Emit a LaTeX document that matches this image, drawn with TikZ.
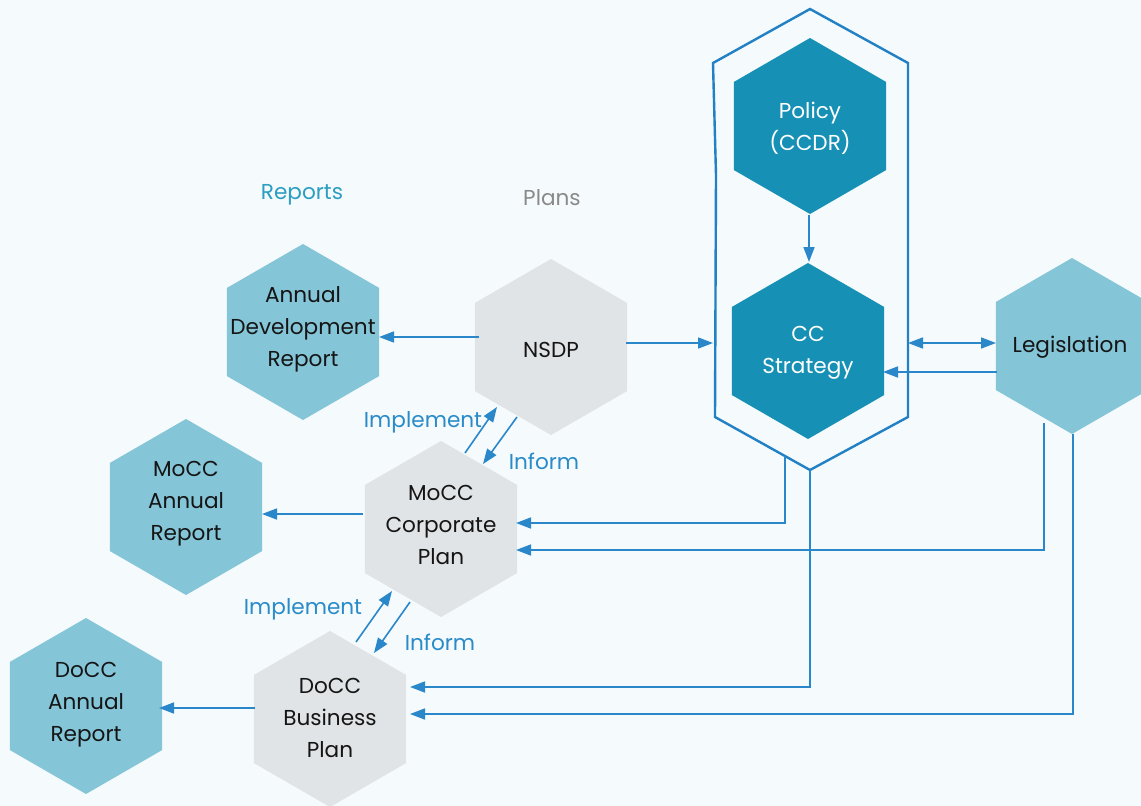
\documentclass[tikz,border=0pt]{standalone}
\usepackage{fontspec}
\setmainfont{Poppins}
\usetikzlibrary{shapes.geometric,arrows.meta,calc}
\definecolor{bgc}{HTML}{F5FAFC}
\definecolor{darkhex}{HTML}{1690B5}
\definecolor{lighthex}{HTML}{84C5D8}
\definecolor{grayhex}{HTML}{E1E4E6}
\definecolor{arrowc}{HTML}{2A87C9}
\definecolor{contc}{HTML}{2280C4}
\definecolor{labelc}{HTML}{2A8BC9}
\definecolor{reportc}{HTML}{2B9EC2}
\definecolor{plansc}{HTML}{8A8A8A}
\definecolor{textc}{HTML}{151515}
\tikzset{
  hexbase/.style={regular polygon, regular polygon sides=6, shape border rotate=30,
    minimum size=176pt, inner sep=0pt, outer sep=0pt, draw=none},
  hexdark/.style={hexbase, fill=darkhex},
  hexlight/.style={hexbase, fill=lighthex},
  hexgray/.style={hexbase, fill=grayhex},
  hextext/.style={align=center, font=\fontsize{21.6}{32}\selectfont, text=textc, inner sep=0pt},
  hextextw/.style={hextext, text=white},
  lbl/.style={font=\fontsize{21.6}{26}\selectfont, text=labelc, inner sep=0pt},
  arr/.style={draw=arrowc, line width=1.6pt, -{Triangle[length=15pt,width=11pt]}},
  darr/.style={draw=arrowc, line width=1.6pt, {Triangle[length=15pt,width=11pt]}-{Triangle[length=15pt,width=11pt]}},
  cont/.style={draw=contc, line width=2.4pt, line join=miter}
}
\begin{document}
\begin{tikzpicture}[x=1pt,y=-1pt]
\fill[bgc] (0,0) rectangle (1141,806);
\useasboundingbox (0,0) rectangle (1141,806);
\clip (0,0) rectangle (1141,806);

% container
\coordinate (ctop) at (810,9);
\coordinate (ctl) at (713,63);
\coordinate (ctr) at (908,63);
\coordinate (cbr) at (908,417);
\coordinate (cbot) at (810,470);
\coordinate (cbl) at (715,417);
\draw[cont] (ctop) -- (ctr) -- (cbr) -- (cbot) -- (cbl) -- (716,175) -- (ctl) -- cycle;

% hexagons
\node[hexlight] (adr) at (303,332) {};
\node[hexgray] (nsdp) at (551,347) {};
\node[hexdark] (policy) at (810,126) {};
\node[hexdark] (ccs) at (808,351) {};
\node[hexlight] (leg) at (1072,346) {};
\node[hexlight] (moccar) at (186,507) {};
\node[hexgray] (mocccp) at (441,529) {};
\node[hexlight] (doccar) at (86,706) {};
\node[hexgray] (doccbp) at (330,719) {};

\node[hextext] (adrt) at (303,329) {Annual\\Development\\Report};
\node[hextext] (nsdpt) at (551,350) {NSDP};
\node[hextextw] (policyt) at (810,128) {Policy\\(CCDR)};
\node[hextextw] (ccst) at (808,353) {CC\\Strategy};
\node[hextext] (legt) at (1070,347) {Legislation};
\node[hextext] (moccart) at (186,504) {MoCC\\Annual\\Report};
\node[hextext] (mocccpt) at (441,525) {MoCC\\Corporate\\Plan};
\node[hextext] (doccart) at (86,705) {DoCC\\Annual\\Report};
\node[hextext] (doccbpt) at (330,718) {DoCC\\Business\\Plan};

% headers and labels
\node[lbl, text=reportc] (rep) at (302,195) {Reports};
\node[lbl, text=plansc] (pla) at (552,198) {Plans};
\node[lbl] (imp1) at (423,422) {Implement};
\node[lbl] (inf1) at (544,461) {Inform};
\node[lbl] (imp2) at (303,609) {Implement};
\node[lbl] (inf2) at (440,642) {Inform};

% connectors
\draw[arr] ($(nsdp)+(-72,-10)$) -- ($(adr)+(76,5)$);
\coordinate (n2c) at ($(nsdp)+(75,-4)$);
\draw[arr] (n2c) -- (n2c -| ctl);
\draw[arr] ($(policy)+(-1,89)$) -- ($(ccs)+(1,-89)$);
\coordinate (l2c) at ($(leg)+(-76,-3)$);
\draw[darr] (l2c -| ctr) -- (l2c);
\draw[arr] ($(leg)+(-75,26)$) -- ($(ccs)+(75,21)$);

\draw[arr] ($(mocccp)+(24,-76)$) -- ($(nsdp)+(-54,60)$);
\draw[arr] ($(nsdp)+(-34,70)$) -- ($(mocccp)+(42,-65)$);
\draw[arr] ($(doccbp)+(26,-77)$) -- ($(mocccp)+(-49,62)$);
\draw[arr] ($(mocccp)+(-31,73)$) -- ($(doccbp)+(44,-66)$);

\draw[arr] ($(mocccp)+(-78,-15)$) -- ($(moccar)+(76,7)$);
\draw[arr] ($(doccbp)+(-75,-11)$) -- ($(doccar)+(73,2)$);

\coordinate (s1) at ($(cbl)!0.737!(cbot)$);
\draw[arr] (s1) |- ($(mocccp)+(75,-6)$);
\draw[arr] ($(leg)+(-28,77)$) |- ($(mocccp)+(75,21)$);
\draw[arr] (cbot) |- ($(doccbp)+(80,-32)$);
\draw[arr] ($(leg)+(1,88)$) |- ($(doccbp)+(80,-5)$);
\end{tikzpicture}
\end{document}
